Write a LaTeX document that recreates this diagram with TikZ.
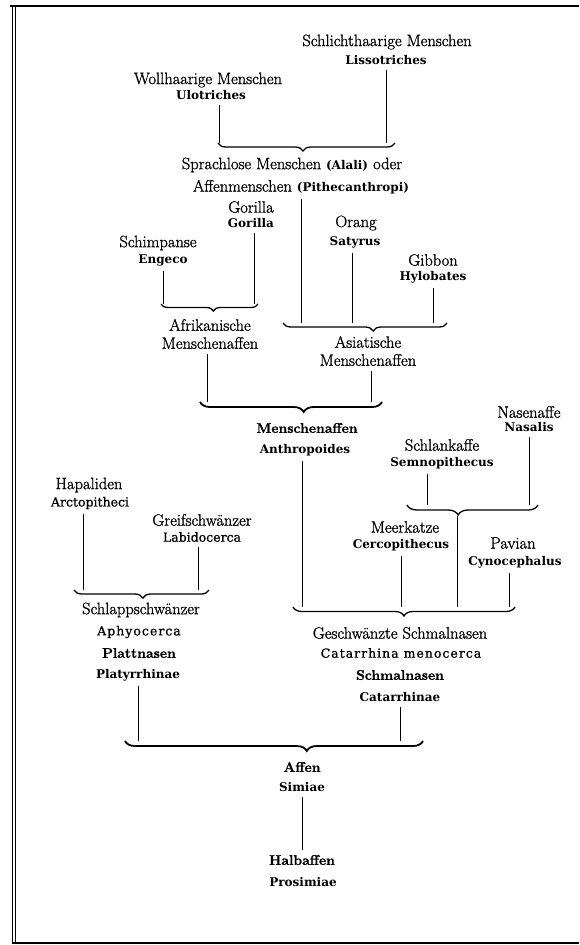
\documentclass[tikz,border=0pt]{standalone}
\usepackage{fontspec}
\newfontfamily\latinfont{DejaVu Serif}
\newfontfamily\latinplainfont{DejaVu Serif}[FakeBold=0.8]
\newfontfamily\germanfont{Latin Modern Roman}[FakeBold=1.2]
\usetikzlibrary{decorations.pathreplacing}

\begin{document}
\begin{tikzpicture}[x=1pt,y=-1pt,
	german/.style={inner sep=1pt,align=center,font=\germanfont\fontsize{16.5}{18}\selectfont},
	fatgerman/.style={inner sep=1pt,font=\germanfont\fontsize{14}{16}\selectfont\bfseries},
	latin/.style={inner sep=1pt,font=\latinfont\fontsize{12}{14}\selectfont\bfseries},
	plain/.style={inner sep=1pt,font=\latinplainfont\fontsize{12.5}{14}\selectfont},
	spaced/.style={plain,font=\latinplainfont\fontsize{12.5}{14}\selectfont\addfontfeature{LetterSpace=8}},
	stem/.style={line width=0.6pt,shorten <=4pt},
	curly/.style n args={2}{line width=1.3pt,decorate,decoration={brace,mirror,amplitude=#1,aspect=#2}}]
	\useasboundingbox (0,0) rectangle (579,945);

	%FRAME
	\draw[line width=1.6pt] (10,6) -- (579,6);
	\draw[line width=0.8pt] (12.5,6) -- (12.5,943);
	\draw[line width=0.8pt] (15.5,6) -- (15.5,943);
	\draw[line width=1.2pt] (12,943) -- (579,943);

	%MENSCHEN
	\node[german] (schlicht) at (387,42) {Schlichthaarige Menschen};
	\node[latin] (liss) at (386,60) {Lissotriches};
	\node[german] (woll) at (208,80) {Wollhaarige Menschen};
	\node[latin] (ulo) at (211,95) {Ulotriches};
	\node[german] (sprach) at (292,165) {Sprachlose Menschen {\latinfont\fontsize{12}{14}\selectfont\bfseries(Alali)} oder};
	\node[german] (affmen) at (301,187) {Affenmenschen {\latinfont\fontsize{12}{14}\selectfont\bfseries(Pithecanthropi)}};

	%MENSCHENAFFEN
	\node[german] (gorde) at (251,207) {Gorilla};
	\node[latin] (gor) at (251,223) {Gorilla};
	\node[german] (schimp) at (158,243) {Schimpanse};
	\node[latin] (engeco) at (163,260) {Engeco};
	\node[german] (orang) at (356,223) {Orang};
	\node[latin] (satyrus) at (355,242) {Satyrus};
	\node[german] (gibbon) at (433,260) {Gibbon};
	\node[latin] (hylob) at (433,277) {Hylobates};
	\node[german] (afrik) at (210,334) {Afrikanische\\Menschenaffen};
	\node[german] (asiat) at (368,351) {Asiatische\\Menschenaffen};
	\node[fatgerman] (menaff) at (307,428) {Menschenaffen};
	\node[latin] (anthrop) at (305,450) {Anthropoides};

	%SCHMALNASEN
	\node[german] (nasenaffe) at (529,412) {Nasenaffe};
	\node[latin] (nasalis) at (529,427) {Nasalis};
	\node[german] (schlank) at (442,445) {Schlankaffe};
	\node[latin] (semno) at (442,463) {Semnopithecus};
	\node[german] (meerk) at (405,527) {Meerkatze};
	\node[latin] (cercop) at (401,545) {Cercopithecus};
	\node[german] (pavian) at (513,543) {Pavian};
	\node[latin] (cynoc) at (515,562) {Cynocephalus};
	\node[german] (geschw) at (400,633) {Geschwänzte Schmalnasen};
	\node[spaced] (menoc) at (401,653) {Catarrhina menocerca};
	\node[fatgerman] (schmal) at (400,675) {Schmalnasen};
	\node[latin] (catarrh) at (400,697) {Catarrhinae};

	%PLATTNASEN
	\node[german] (hapal) at (89,485) {Hapaliden};
	\node[plain] (arcto) at (90,503) {Arctopitheci};
	\node[german] (greif) at (202,520) {Greifschwänzer};
	\node[plain] (labido) at (202,537) {Labidocerca};
	\node[german] (schlapp) at (141,610) {Schlappschwänzer};
	\node[spaced] (aphyo) at (139,632) {Aphyocerca};
	\node[fatgerman] (platt) at (139,653) {Plattnasen};
	\node[latin] (platyr) at (138,675) {Platyrrhinae};

	%AFFEN
	\node[fatgerman] (affen) at (302,767) {Affen};
	\node[latin] (simiae) at (302,787) {Simiae};
	\node[fatgerman] (halb) at (302,860) {Halbaffen};
	\node[latin] (prosim) at (303,882) {Prosimiae};

	%BRACES
	\coordinate (b1l) at (218,143); \coordinate (b1r) at (395,143);
	\coordinate (b2l) at (161,304); \coordinate (b2r) at (258,304);
	\coordinate (b3l) at (283,323); \coordinate (b3r) at (447,323);
	\coordinate (b4l) at (200,402); \coordinate (b4r) at (382,402);
	\coordinate (b5l) at (407,505); \coordinate (b5r) at (538,505);
	\coordinate (b6l) at (293,607); \coordinate (b6r) at (515,607);
	\coordinate (b7l) at (125,741); \coordinate (b7r) at (423,741);
	\coordinate (b8l) at (74,590); \coordinate (b8r) at (209,590);
	\coordinate (b5tip) at (457,516);
	\draw[curly={8pt}{0.48}] (b1l) -- (b1r);
	\draw[curly={7pt}{0.54}] (b2l) -- (b2r);
	\draw[curly={8pt}{0.55}] (b3l) -- (b3r);
	\draw[curly={10pt}{0.57},line width=1.8pt] (b4l) -- (b4r);
	\draw[curly={10pt}{0.39}] (b5l) -- (b5r);
	\draw[curly={9pt}{0.5}] (b6l) -- (b6r);
	\draw[curly={10pt}{0.61},line width=1.8pt] (b7l) -- (b7r);
	\draw[curly={8pt}{0.51}] (b8l) -- (b8r);

	%STEMS
	\draw[stem] (liss.south) -- (liss.south |- b1l);
	\draw[stem] ([xshift=8pt]ulo.south) -- ([xshift=8pt]ulo.south |- b1l);
	\draw[stem] (affmen.south) -- (affmen.south |- b3l);
	\draw[stem] ([xshift=3pt]gor.south) -- ([xshift=3pt]gor.south |- b2l);
	\draw[stem] (engeco.south) -- (engeco.south |- b2l);
	\draw[stem] ([xshift=-3pt]satyrus.south) -- ([xshift=-3pt]satyrus.south |- b3l);
	\draw[stem] (hylob.south) -- (hylob.south |- b3l);
	\draw[stem] ([xshift=-3pt]afrik.south) -- ([xshift=-3pt]afrik.south |- b4l);
	\draw[stem] ([xshift=3pt]asiat.south) -- ([xshift=3pt]asiat.south |- b4l);
	\draw[stem] ([xshift=-3pt]anthrop.south) -- ([xshift=-3pt]anthrop.south |- b6l);
	\draw[stem] (nasalis.south) -- (nasalis.south |- b5l);
	\draw[stem] ([xshift=-15pt]semno.south) -- ([xshift=-15pt]semno.south |- b5l);
	\draw[line width=0.6pt] (b5tip) -- (b5tip |- b6l);
	\draw[stem] (cercop.south) -- (cercop.south |- b6l);
	\draw[stem] ([xshift=-6pt]cynoc.south) -- ([xshift=-6pt]cynoc.south |- b6l);
	\draw[stem] ([xshift=-7pt]arcto.south) -- ([xshift=-7pt]arcto.south |- b8l);
	\draw[stem] ([xshift=-4pt]labido.south) -- ([xshift=-4pt]labido.south |- b8l);
	\draw[stem] (platyr.south) -- (platyr.south |- b7l);
	\draw[stem] (catarrh.south) -- (catarrh.south |- b7l);
	\draw[stem,shorten >=4pt] (simiae) -- (halb);
\end{tikzpicture}
\end{document}
